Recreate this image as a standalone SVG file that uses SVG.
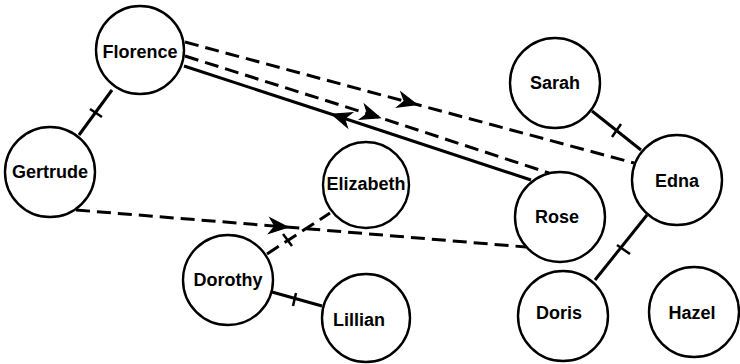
<svg xmlns="http://www.w3.org/2000/svg" width="740" height="364" viewBox="0 0 740 364">
  <style>
    .node circle { fill: #fff; stroke: #000; stroke-width: 2.4; }
    .node text { font-family: "Liberation Sans", Arial, sans-serif; font-weight: bold; font-size: 18px; text-anchor: middle; dominant-baseline: central; fill: #000; }
    .solid { fill: none; stroke: #000; stroke-width: 3; }
    .dash { fill: none; stroke: #000; stroke-width: 3; stroke-dasharray: 14 7; }
    .tick { fill: none; stroke: #000; stroke-width: 2.5; }
  </style>
  <defs>
    <marker id="arrow" markerUnits="userSpaceOnUse" markerWidth="24" markerHeight="20" viewBox="-17 -9 21 18" refX="0" refY="0" orient="auto">
      <path d="M2,0 L-15,-7 L-10,0 L-15,7 Z" fill="#000" stroke="#000" stroke-width="1"/>
    </marker>
  </defs>

  <g id="connectors">
    <!-- Florence - Gertrude -->
    <path class="solid" d="M112,90 L79,135"/>
    <path class="tick" d="M90,109 L102,117"/>
    <!-- Florence to Edna -->
    <path class="dash" d="M185,42 L415,104 L634,163" marker-mid="url(#arrow)"/>
    <!-- Florence to Rose -->
    <path class="dash" d="M185,56 L378,117 L549,173" marker-mid="url(#arrow)"/>
    <!-- Rose to Florence -->
    <path class="solid" d="M531,180 L334,115 L184,66" marker-mid="url(#arrow)"/>
    <!-- Gertrude to Rose -->
    <path class="dash" d="M76,210 L286,227 L526,247" marker-mid="url(#arrow)"/>
    <!-- Dorothy - Elizabeth -->
    <path class="dash" d="M267,254 L330,213"/>
    <path class="tick" d="M283,234 L292,246"/>
    <!-- Dorothy - Lillian -->
    <path class="solid" d="M272,292 L322,306"/>
    <path class="tick" d="M296,293 L293,306"/>
    <!-- Sarah - Edna -->
    <path class="solid" d="M592,111 L641,150"/>
    <path class="tick" d="M621,124 L612,137"/>
    <!-- Edna - Doris -->
    <path class="solid" d="M647,215 L595,280"/>
    <path class="tick" d="M617,245 L630,254"/>
  </g>

  <g id="florence" class="node"><circle cx="140" cy="50" r="44"/><text x="140" y="52">Florence</text></g>
  <g id="gertrude" class="node"><circle cx="50" cy="172" r="45"/><text x="50" y="172">Gertrude</text></g>
  <g id="elizabeth" class="node"><circle cx="366" cy="185" r="43"/><text x="366" y="184">Elizabeth</text></g>
  <g id="dorothy" class="node"><circle cx="228" cy="280" r="45"/><text x="228" y="280">Dorothy</text></g>
  <g id="lillian" class="node"><circle cx="366" cy="318" r="44"/><text x="359" y="320">Lillian</text></g>
  <g id="sarah" class="node"><circle cx="555" cy="83" r="45"/><text x="555" y="83">Sarah</text></g>
  <g id="edna" class="node"><circle cx="677" cy="180" r="45"/><text x="677" y="181">Edna</text></g>
  <g id="rose" class="node"><circle cx="560" cy="217" r="45"/><text x="557" y="217">Rose</text></g>
  <g id="doris" class="node"><circle cx="563" cy="316" r="45"/><text x="559" y="313">Doris</text></g>
  <g id="hazel" class="node"><circle cx="694" cy="312" r="45"/><text x="692" y="313">Hazel</text></g>
</svg>
